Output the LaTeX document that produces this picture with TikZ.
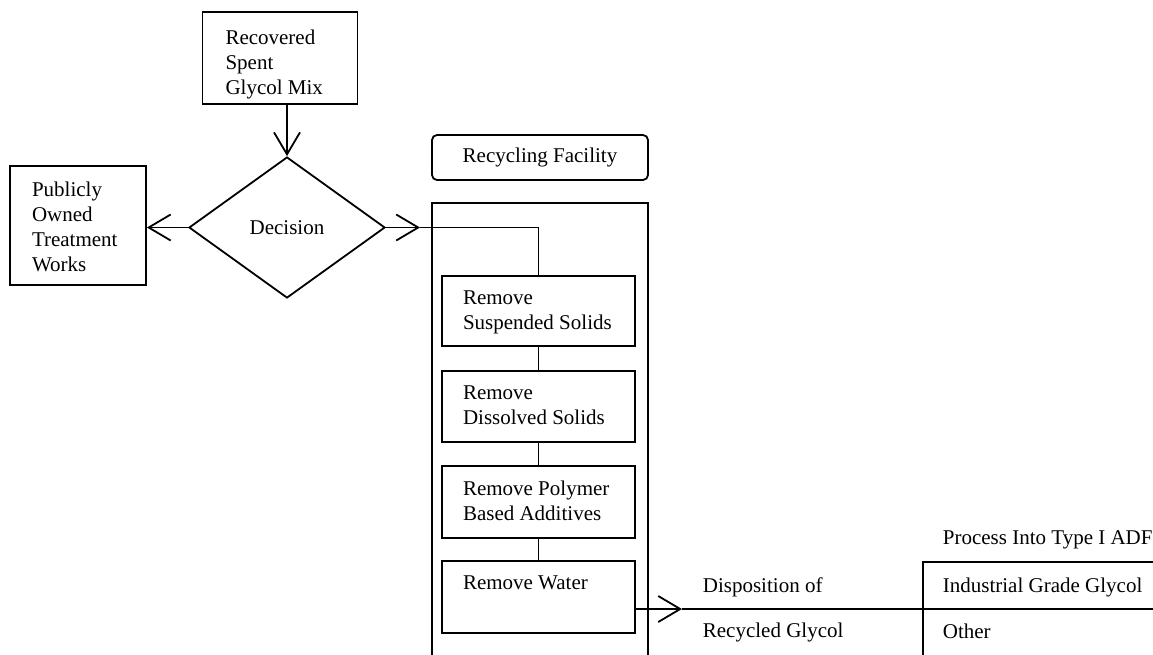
\documentclass[tikz,border=0pt]{standalone}
\usepackage{fontspec}
\setmainfont{Liberation Serif}
\usetikzlibrary{arrows.meta,shapes.geometric}
\begin{document}
\begin{tikzpicture}[x=1pt,y=-1pt,
  line width=1.8pt,
  fs/.style={font=\fontsize{21}{25}\selectfont},
  box/.style={draw,rectangle,inner sep=0pt},
  txt/.style={fs,align=left,inner sep=0pt,anchor=north west},
  lbl/.style={fs,inner sep=0pt,anchor=base west},
  arr/.style={-{Straight Barb[length=22pt,width=26pt,line width=1.8pt]}}]
\useasboundingbox (0,0) rectangle (1153,654);
\clip (0,0) rectangle (1153,654);
% boxes
\node[box,minimum width=155pt,minimum height=92pt] (rsg) at (280,58) {};
\node[txt] (rsgt) at ([shift={(23,18)}]rsg.north west) {Recovered\\Spent\\Glycol Mix};
\node[box,minimum width=136pt,minimum height=119pt] (pot) at (78,225.5) {};
\node[txt] (pott) at ([shift={(22,16)}]pot.north west) {Publicly\\Owned\\Treatment\\Works};
\node[draw,diamond,inner sep=0pt,minimum width=196pt,minimum height=141pt,fs] (dec) at (287,227.5) {Decision};
\node[box,rounded corners=5pt,minimum width=216pt,minimum height=45pt,fs] (rf) at (540,157.5) {Recycling Facility};
\node[box,minimum width=216pt,minimum height=494pt] (fac) at (540,450) {};
\node[box,minimum width=193pt,minimum height=70pt] (b1) at (538.5,311) {};
\node[box,minimum width=193pt,minimum height=71pt] (b2) at (538.5,406.5) {};
\node[box,minimum width=193pt,minimum height=72pt] (b3) at (538.5,502) {};
\node[box,minimum width=193pt,minimum height=72pt] (b4) at (538.5,597) {};
\node[txt] (t1) at ([shift={(21,15)}]b1.north west) {Remove\\Suspended Solids};
\node[txt] (t2) at ([shift={(21,15)}]b2.north west) {Remove\\Dissolved Solids};
\node[txt] (t3) at ([shift={(21,15)}]b3.north west) {Remove Polymer\\Based Additives};
\node[txt] (t4) at ([shift={(21,15)}]b4.north west) {Remove Water};
\node[box,minimum width=300pt,minimum height=200pt] (rb) at (1073,662) {};
% labels
\node[lbl] (d1) at (702,592) {Disposition of};
\node[lbl] (d2) at (702,637) {Recycled Glycol};
\node[lbl] (ig) at (942,592) {Industrial Grade Glycol};
\node[lbl] (ot) at (942,638) {Other};
\node[lbl] (pi) at (942,544) {Process Into Type I ADF};
% connectors
\coordinate (a1) at (420,227.5);
\coordinate (a2) at (682,609);
\coordinate (w4) at (b4.east |- a2);
\draw[arr] (rsg.south -| dec.north) -- (dec.north);
\draw[arr] (dec.west) -- (pot.east |- dec.west);
\draw[arr] (dec.east) -- (a1);
\draw (a1) -| (b1.north);
\draw (b1.south) -- (b2.north);
\draw (b2.south) -- (b3.north);
\draw (b3.south) -- (b4.north);
\draw[arr] (w4) -- (a2);
\draw (a2) -- (a2 -| rb.west);
\draw (a2 -| rb.west) -- (a2 -| rb.east);
\end{tikzpicture}
\end{document}
